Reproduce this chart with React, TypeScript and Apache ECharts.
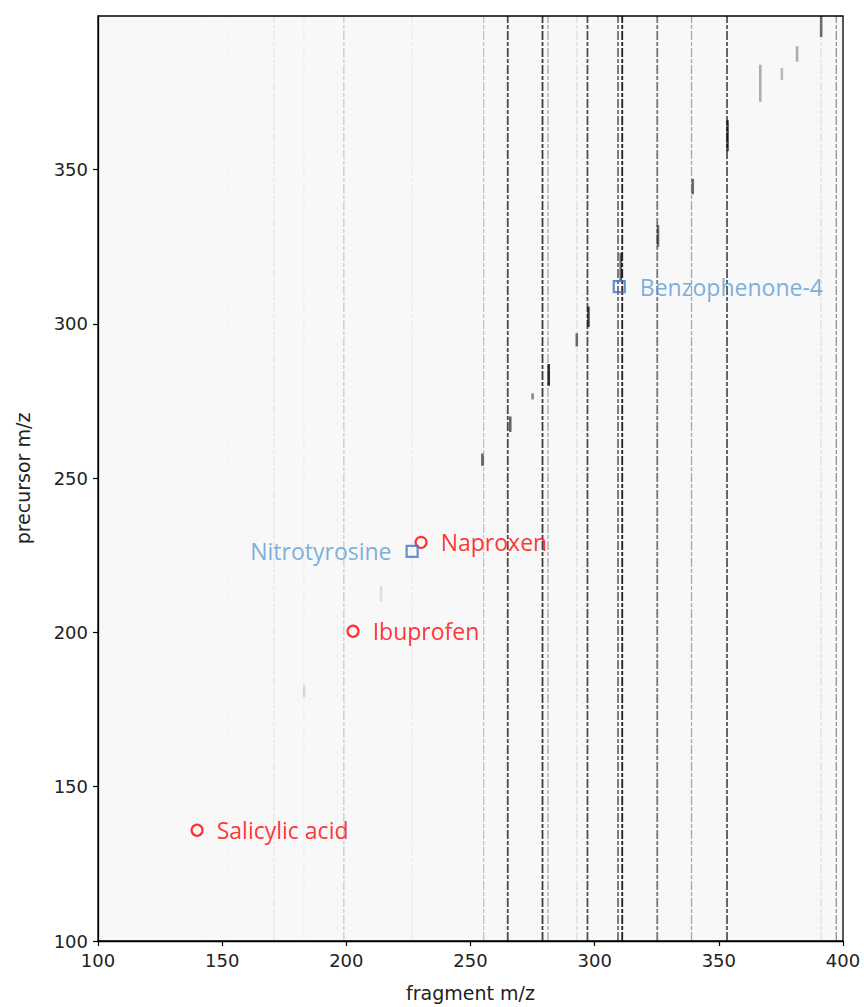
import React, { useEffect, useRef } from "react";
import * as echarts from "echarts";

// fragment m/z of the vertical ion traces and their darkness (0..1)
const TRACE_FRAGMENT = [143.9, 152.0, 170.8, 182.9, 199.0, 226.5, 255.3, 265.0, 279.0, 281.2, 292.8, 297.1, 309.4, 311.1, 325.2, 339.0, 353.3, 391.2, 397.3];
const TRACE_INTENSITY = [0.015, 0.015, 0.07, 0.04, 0.18, 0.05, 0.22, 0.7, 0.75, 0.32, 0.1, 0.68, 0.55, 0.88, 0.52, 0.32, 0.65, 0.1, 0.42];
const TRACE_FROM = [100, 100, 100, 100, 100, 100, 100, 100, 100, 100, 100, 100, 100, 100, 100, 100, 100, 100, 100];
const TRACE_TO = [400, 400, 400, 400, 400, 400, 400, 400, 400, 400, 400, 400, 400, 400, 400, 400, 400, 400, 400];

// short dark streaks near the precursor = fragment diagonal
const STREAK_FRAGMENT = [183.0, 214.0, 254.8, 266.0, 275.0, 281.5, 292.8, 297.5, 310.5, 325.5, 339.5, 353.5, 366.7, 375.4, 381.5, 391.2];
const STREAK_FROM = [179, 210, 254, 265, 275.5, 280, 292.7, 299, 314, 325, 342, 356, 372, 379, 385, 393];
const STREAK_TO = [183, 215, 258, 270, 277.5, 287, 297, 305.6, 323, 332, 347, 366, 384, 383, 390, 400];
const STREAK_INTENSITY = [0.12, 0.1, 0.6, 0.6, 0.45, 0.8, 0.55, 0.7, 0.6, 0.55, 0.55, 0.7, 0.3, 0.25, 0.3, 0.55];

// annotated compounds
const CIRCLE_NAMES = ["Salicylic acid", "Ibuprofen", "Naproxen"];
const CIRCLE_FRAGMENT = [139.9, 202.7, 230.1];
const CIRCLE_PRECURSOR = [135.9, 200.4, 229.2];
const SQUARE_NAMES = ["Nitrotyrosine", "Benzophenone-4"];
const SQUARE_FRAGMENT = [226.5, 309.9];
const SQUARE_PRECURSOR = [226.3, 312.1];
const SQUARE_LABEL_SIDE = ["left", "right"];

const X_TICKS = [100, 150, 200, 250, 300, 350, 400];

export default function App() {
  const ref = useRef<HTMLDivElement>(null);
  useEffect(() => {
    if (!ref.current) return;
    const chart = echarts.init(ref.current, undefined, { renderer: "svg" });

    const traceData = TRACE_FRAGMENT.map((f, i) => [f, TRACE_FROM[i], TRACE_TO[i], TRACE_INTENSITY[i]]);
    const streakData = STREAK_FRAGMENT.map((f, i) => [f, STREAK_FROM[i], STREAK_TO[i], STREAK_INTENSITY[i]]);

    const segRender = (thick: boolean) => (params: any, api: any) => {
      const x = api.value(0);
      const p0 = api.coord([x, api.value(1)]);
      const p1 = api.coord([x, api.value(2)]);
      const a = api.value(3);
      const w = thick ? 2.6 : a > 0.5 ? 1.8 : 1.3;
      return {
        type: "line",
        shape: { x1: p0[0], y1: p0[1], x2: p1[0], y2: p1[1] },
        style: {
          stroke: `rgba(0,0,0,${a})`,
          lineWidth: w,
          lineDash: thick ? null : [9, 2, 4, 2],
        },
        silent: true,
      };
    };

    chart.setOption({
      animation: false,
      grid: {
        left: 98,
        right: 21,
        top: 16,
        bottom: 65,
        show: true,
        backgroundColor: "#f8f8f8",
        borderColor: "#000",
        borderWidth: 1.3,
      },
      xAxis: {
        type: "value",
        min: 100,
        max: 400,
        interval: 50,
        name: "fragment m/z",
        nameLocation: "middle",
        nameGap: 42,
        nameTextStyle: { fontFamily: "DejaVu Sans", fontSize: 19, color: "#222" },
        axisLine: { show: true, onZero: false, lineStyle: { color: "#000", width: 1.3 } },
        axisTick: { show: true, length: 5, lineStyle: { color: "#000", width: 1.2 } },
        axisLabel: {
          margin: 10,
          fontFamily: "DejaVu Sans",
          fontSize: 18,
          color: "#222",
          formatter: (v: number) => (X_TICKS.indexOf(v) >= 0 ? String(v) : ""),
        },
        splitLine: { show: false },
      },
      yAxis: {
        type: "value",
        min: 100,
        max: 399.8,
        interval: 50,
        name: "precursor m/z",
        nameLocation: "middle",
        nameGap: 66,
        nameRotate: 90,
        nameTextStyle: { fontFamily: "DejaVu Sans", fontSize: 19, color: "#222" },
        axisLine: { show: true, onZero: false, lineStyle: { color: "#000", width: 1.3 } },
        axisTick: { show: true, length: 5, lineStyle: { color: "#000", width: 1.2 } },
        axisLabel: {
          margin: 10,
          fontFamily: "DejaVu Sans",
          fontSize: 18,
          color: "#222",
          showMaxLabel: false,
        },
        splitLine: { show: false },
      },
      series: [
        {
          type: "custom",
          data: traceData,
          encode: { x: [0], y: [1, 2] },
          renderItem: segRender(false),
          clip: true,
          silent: true,
          z: 1,
        },
        {
          type: "custom",
          data: streakData,
          encode: { x: [0], y: [1, 2] },
          renderItem: segRender(true),
          clip: true,
          silent: true,
          z: 2,
        },
        {
          type: "scatter",
          symbol: "circle",
          symbolSize: 11,
          z: 5,
          itemStyle: { color: "rgba(0,0,0,0)", borderColor: "#ff0000", borderWidth: 2.2 },
          label: {
            show: true,
            position: "right",
            distance: 13,
            formatter: (p: any) => p.name,
            color: "#ff0000",
            fontFamily: "Open Sans",
            fontSize: 23,
          },
          data: CIRCLE_NAMES.map((n, i) => ({ name: n, value: [CIRCLE_FRAGMENT[i], CIRCLE_PRECURSOR[i]] })),
        },
        {
          type: "scatter",
          symbol: "rect",
          symbolSize: 11,
          z: 5,
          itemStyle: { color: "rgba(0,0,0,0)", borderColor: "#4472c4", borderWidth: 2.2 },
          label: {
            show: true,
            distance: 14,
            formatter: (p: any) => p.name,
            color: "#5b9bd5",
            fontFamily: "Open Sans",
            fontSize: 23,
          },
          data: SQUARE_NAMES.map((n, i) => ({
            name: n,
            value: [SQUARE_FRAGMENT[i], SQUARE_PRECURSOR[i]],
            label: { position: SQUARE_LABEL_SIDE[i] },
          })),
        },
      ],
    });
    return () => chart.dispose();
  }, []);
  return (
    <div
      ref={ref}
      style={{ position: "fixed", left: 0, top: 0, width: 864, height: 1007, background: "#fff" }}
    />
  );
}
